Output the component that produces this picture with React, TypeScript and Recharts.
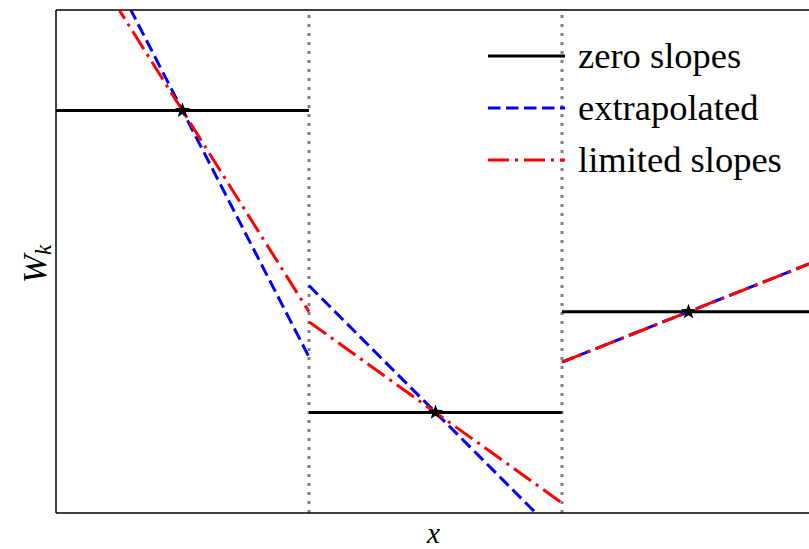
import React from "react";
import {
  ComposedChart,
  Line,
  Scatter,
  XAxis,
  YAxis,
  ReferenceLine,
} from "recharts";

// cell boundaries along x, and the cell averages W_k
const cellEdges = [0, 1, 2, 3];
const cellAverages = [8, 2, 4];
// reconstructed values at [left, right] edge of each cell
const extrapolatedEdges = [
  [12.9, 3.1],
  [4.52, -0.52],
  [3.0, 5.0],
];
const limitedEdges = [
  [12.0, 4.0],
  [3.8, 0.2],
  [3.0, 5.0],
];

const legendLabels = ["zero slopes", "extrapolated", "limited slopes"];

const SERIF = "'Liberation Serif', 'Times New Roman', serif";

type Pt = { x: number; y: number | null };

// build one broken polyline from per-cell [left, right] values
function segments(edges: number[][]): Pt[] {
  const out: Pt[] = [];
  edges.forEach(([l, r], i) => {
    if (i > 0) out.push({ x: cellEdges[i], y: null });
    out.push({ x: cellEdges[i], y: l });
    out.push({ x: cellEdges[i + 1], y: r });
  });
  return out;
}

const zeroData = segments(cellAverages.map((w) => [w, w]));
const extrapData = segments(extrapolatedEdges);
const limitedData = segments(limitedEdges);
const centerData = cellAverages.map((w, i) => ({
  x: (cellEdges[i] + cellEdges[i + 1]) / 2,
  y: w,
}));

const series = [
  { name: legendLabels[0], data: zeroData, color: "#000000", dash: undefined },
  { name: legendLabels[1], data: extrapData, color: "#0000ff", dash: "12.5 5.5" },
  { name: legendLabels[2], data: limitedData, color: "#ff0000", dash: "21 6 3 6" },
];

function Star(props: any) {
  const { cx, cy } = props;
  if (cx == null || cy == null) return null;
  const pts: string[] = [];
  for (let i = 0; i < 10; i++) {
    const r = i % 2 === 0 ? 8 : 3.4;
    const a = -Math.PI / 2 + (i * Math.PI) / 5;
    pts.push(`${cx + r * Math.cos(a)},${cy + r * Math.sin(a)}`);
  }
  return <polygon points={pts.join(" ")} fill="#000" />;
}

function ChartLegend() {
  return (
    <div style={{ position: "absolute", left: 488, top: 30, fontFamily: SERIF, fontSize: 36.5 }}>
      {series.map((s) => (
        <div key={s.name} style={{ display: "flex", alignItems: "center", height: 52 }}>
          <svg width={77} height={6} style={{ marginRight: 13 }}>
            <line
              x1={0}
              y1={3}
              x2={77}
              y2={3}
              stroke={s.color}
              strokeWidth={3}
              strokeDasharray={s.dash}
            />
          </svg>
          <span style={{ lineHeight: 1 }}>{s.name}</span>
        </div>
      ))}
    </div>
  );
}

export default function App() {
  return (
    <div
      style={{
        position: "absolute",
        left: 0,
        top: 0,
        width: 809,
        height: 549,
        overflow: "hidden",
        background: "#fff",
      }}
    >
      <ComposedChart width={815} height={549} margin={{ top: 10, right: 0, left: 0, bottom: 0 }}>
        <XAxis
          dataKey="x"
          type="number"
          domain={[0, 3]}
          height={36}
          tick={false}
          tickLine={false}
          axisLine={{ stroke: "#000", strokeWidth: 1.5 }}
          label={({ viewBox }: any) => (
            <text
              x={viewBox.x + viewBox.width / 2 - 2}
              y={viewBox.y + 30}
              textAnchor="middle"
              fontFamily={SERIF}
              fontStyle="italic"
              fontSize={29}
            >
              x
            </text>
          )}
        />
        <YAxis
          type="number"
          domain={[0, 10]}
          allowDataOverflow
          width={56}
          tick={false}
          tickLine={false}
          axisLine={{ stroke: "#000", strokeWidth: 1.5 }}
          label={() => (
            <text
              transform="translate(46, 264) rotate(-90)"
              textAnchor="middle"
              fontFamily={SERIF}
              fontStyle="italic"
              fontSize={34}
            >
              W<tspan fontSize={23} dy={5}>k</tspan>
            </text>
          )}
        />
        <ReferenceLine y={10} stroke="#000" strokeWidth={1.5} />
        <ReferenceLine x={3} stroke="#000" strokeWidth={1.5} />
        {cellEdges.slice(1, -1).map((e) => (
          <ReferenceLine
            key={e}
            x={e}
            stroke="#808080"
            strokeWidth={3}
            strokeDasharray="3 6"
          />
        ))}
        <Scatter data={centerData} dataKey="y" shape={<Star />} isAnimationActive={false} legendType="none" />
        {series.map((s) => (
          <Line
            key={s.name}
            name={s.name}
            data={s.data}
            dataKey="y"
            type="linear"
            stroke={s.color}
            strokeWidth={3}
            strokeDasharray={s.dash}
            dot={false}
            activeDot={false}
            connectNulls={false}
            isAnimationActive={false}
          />
        ))}
      </ComposedChart>
      <ChartLegend />
    </div>
  );
}
